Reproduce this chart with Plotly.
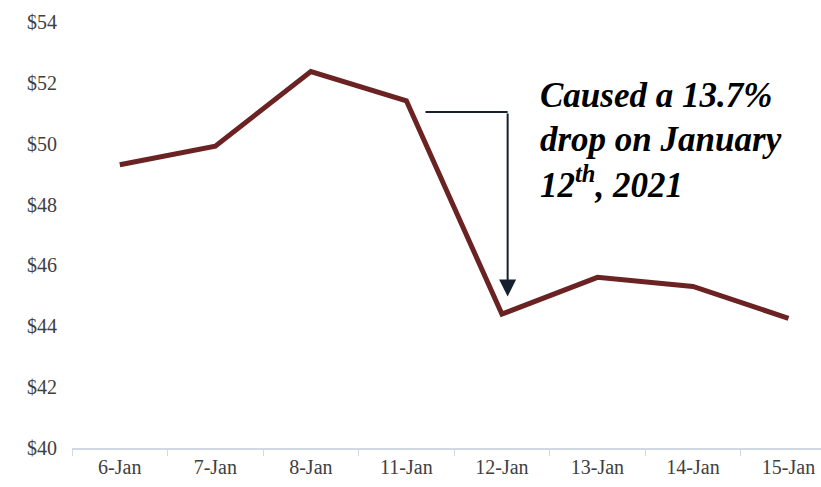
import plotly.graph_objects as go

dates = ["6-Jan", "7-Jan", "8-Jan", "11-Jan", "12-Jan", "13-Jan", "14-Jan", "15-Jan"]
prices = [49.31, 49.92, 52.37, 51.41, 44.40, 45.61, 45.31, 44.26]
y_ticks = [40, 42, 44, 46, 48, 50, 52, 54]
y_labels = ["$%d" % v for v in y_ticks]
note_lines = ["Caused a 13.7%", "drop on January", "12<sup>th</sup>, 2021"]

LINE = "#6A2222"
ARROW = "#17202E"
FONT = "Liberation Serif"
TICKFONT = dict(family=FONT, size=20, color="#404040")

fig = go.Figure()
fig.add_trace(go.Scatter(
    x=dates, y=prices, mode="lines",
    line=dict(color=LINE, width=5), hoverinfo="skip",
))

# elbow arrow: horizontal segment then downward arrow to 12-Jan
x_start, x_corner = 3.2, 4.06
y_top, y_tip = 51.04, 44.98
fig.add_shape(type="line", x0=x_start, x1=x_corner, y0=y_top, y1=y_top,
              xref="x", yref="y", line=dict(color=ARROW, width=2))
fig.add_annotation(x=x_corner, y=y_tip, ax=x_corner, ay=y_top,
                   xref="x", yref="y", axref="x", ayref="y",
                   showarrow=True, arrowhead=2, arrowsize=1.7, arrowwidth=2,
                   arrowcolor=ARROW, text="")

for i, line in enumerate(note_lines):
    fig.add_annotation(
        x=4.38, y=51.6 - i * 1.445, xref="x", yref="y",
        xanchor="left", yanchor="middle", align="left", showarrow=False,
        text="<b><i>%s</i></b>" % line,
        font=dict(family=FONT, size=35, color="#000000"),
    )

fig.update_layout(
    width=821, height=487,
    margin=dict(l=72, r=0, t=22, b=39),
    paper_bgcolor="white", plot_bgcolor="white",
    showlegend=False,
    font=dict(family=FONT, size=20, color="#404040"),
)
fig.update_xaxes(
    type="category", range=[-0.5, 7.34], categoryorder="array",
    categoryarray=dates, tickfont=TICKFONT,
    tickson="boundaries", ticks="outside", ticklen=6,
    tickcolor="#D0D8E4", showline=True, linecolor="#D0D8E4", linewidth=2,
    showgrid=False, zeroline=False, fixedrange=True,
)
fig.update_yaxes(
    range=[40, 54], tickmode="array", tickvals=y_ticks, ticktext=y_labels,
    tickfont=TICKFONT,
    showgrid=False, zeroline=False, showline=False, ticks="",
    ticklabelstandoff=14, fixedrange=True,
)

fig.write_html("out.html")
